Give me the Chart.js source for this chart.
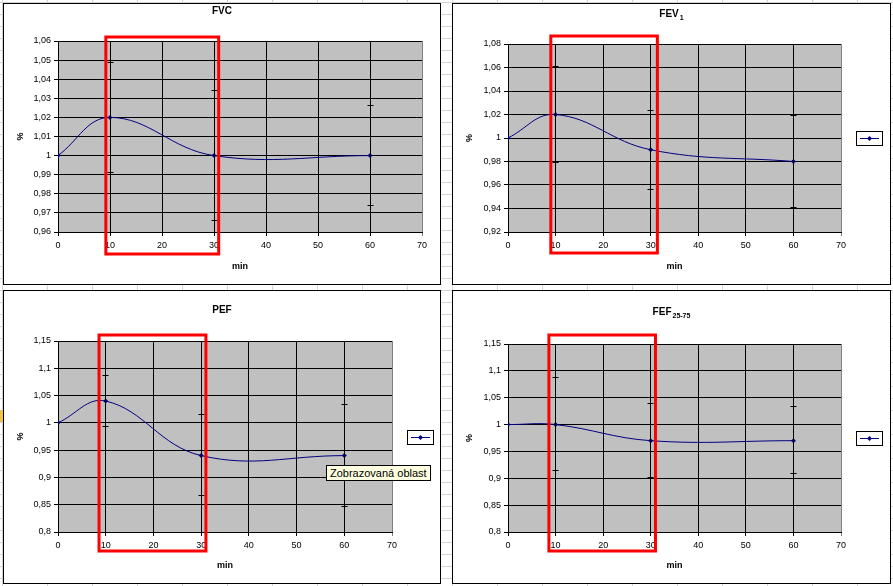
<!DOCTYPE html>
<html>
<head>
<meta charset="utf-8">
<script src="https://cdn.jsdelivr.net/npm/chart.js@4.4.1/dist/chart.umd.min.js"></script>
<style>
  html, body { margin: 0; padding: 0; }
  body {
    width: 893px; height: 586px; overflow: hidden; position: relative;
    background-color: #fff;
    background-image:
      linear-gradient(to bottom, #d4d4d4 1px, transparent 1px),
      linear-gradient(to right, #d4d4d4 1px, transparent 1px);
    background-size: 45px 12px;
    background-position: 2px 2px;
  }
  .panel { position: absolute; background: #fff; border: 1px solid #000; }
  .panel canvas { display: block; }
  .tip {
    position: absolute; left: 326px; top: 465px; height: 16px; padding: 0 3px;
    background: #ffffe1; border: 1px solid #000; box-sizing: border-box;
    font: 11px "Liberation Sans", Arial, sans-serif; line-height: 14px; color: #000;
    white-space: nowrap;
  }
  .mark { position: absolute; left: 0; top: 410px; width: 3px; height: 12px; background: #f2c24c; }
</style>
</head>
<body>
<div class="mark"></div>
<div class="panel" style="left:3px;top:3px;"><canvas id="fvc" width="436" height="280"></canvas></div>
<div class="panel" style="left:452px;top:3px;"><canvas id="fev1" width="437" height="280"></canvas></div>
<div class="panel" style="left:3px;top:290px;"><canvas id="pef" width="436" height="292"></canvas></div>
<div class="panel" style="left:452px;top:290px;"><canvas id="fef" width="437" height="292"></canvas></div>
<div class="tip">Zobrazovaná oblast</div>

<script>
// time after inhalation (min)
const minutes = [0, 10, 30, 60];
const xRange = [0, 70, 10];

// ratio to baseline, mean and error bar ends
const fvcMean = [1.00, 1.02, 1.00, 1.00];
const fvcLow = [null, 0.991, 0.966, 0.974];
const fvcHigh = [null, 1.049, 1.034, 1.026];
const fvcRange = [0.96, 1.06, 0.01];

const fev1Mean = [1.00, 1.02, 0.99, 0.98];
const fev1Low = [null, 0.979, 0.956, 0.941];
const fev1High = [null, 1.061, 1.023, 1.019];
const fev1Range = [0.92, 1.08, 0.02];

const pefMean = [1.00, 1.04, 0.94, 0.94];
const pefLow = [null, 0.993, 0.866, 0.847];
const pefHigh = [null, 1.087, 1.015, 1.033];
const pefRange = [0.8, 1.15, 0.05];

const fefMean = [1.00, 1.00, 0.97, 0.97];
const fefLow = [null, 0.914, 0.902, 0.908];
const fefHigh = [null, 1.087, 1.039, 1.033];
const fefRange = [0.8, 1.15, 0.05];

// red "zoomed area" box, in minutes
const fvcZoom = [9.2, 30.9];
const fev1Zoom = [9.0, 31.4];
const pefZoom = [8.6, 31.0];
const fefZoom = [8.6, 31.0];

const FONT = '"Liberation Sans", Arial, sans-serif';

const panels = [
    {id: "fvc", title: "FVC", sub: "", mean: fvcMean, low: fvcLow, high: fvcHigh, range: fvcRange, zoom: fvcZoom,
     area: {left: 54, right: 418, top: 37, bottom: 228}, titleY: 7, box: [-4, 22], legend: false},
    {id: "fev1", title: "FEV", sub: "1", mean: fev1Mean, low: fev1Low, high: fev1High, range: fev1Range, zoom: fev1Zoom,
     area: {left: 55, right: 388, top: 40, bottom: 228}, titleY: 10, box: [-8, 21], legend: true},
    {id: "pef", title: "PEF", sub: "", mean: pefMean, low: pefLow, high: pefHigh, range: pefRange, zoom: pefZoom,
     area: {left: 54, right: 388, top: 50, bottom: 241}, titleY: 19, box: [-6, 19], legend: true},
    {id: "fef", title: "FEF", sub: "25-75", mean: fefMean, low: fefLow, high: fefHigh, range: fefRange, zoom: fefZoom,
     area: {left: 55, right: 388, top: 53, bottom: 241}, titleY: 21, box: [-9, 19], legend: true}
];

const fmt = v => String(Math.round(v * 1000) / 1000).replace(".", ",");
// same pixel snapping Chart.js uses for 1px grid lines
const snap = v => Math.round(v + 0.5) - 0.5;

const plotBackground = {
    id: "plotBackground",
    beforeDraw(chart){
        const {ctx, chartArea: a} = chart;
        ctx.save();
        ctx.fillStyle = "#c0c0c0";
        ctx.fillRect(a.left, a.top, a.right - a.left, a.bottom - a.top);
        ctx.restore();
    }
};

const errorBars = {
    id: "errorBars",
    afterDatasetsDraw(chart){
        const p = chart.options.plugins.errorBars;
        const {ctx, scales: {x, y}} = chart;
        ctx.save();
        ctx.strokeStyle = "#000";
        ctx.lineWidth = 1;
        minutes.forEach((m, i) => {
            if (p.low[i] == null) return;
            const px = snap(x.getPixelForValue(m));
            const y1 = snap(y.getPixelForValue(p.low[i]));
            const y2 = snap(y.getPixelForValue(p.high[i]));
            ctx.beginPath();
            ctx.moveTo(px, y1); ctx.lineTo(px, y2);
            ctx.moveTo(px - 3, y1); ctx.lineTo(px + 3, y1);
            ctx.moveTo(px - 3, y2); ctx.lineTo(px + 3, y2);
            ctx.stroke();
        });
        ctx.restore();
    }
};

const decorations = {
    id: "decorations",
    afterDraw(chart){
        const p = chart.options.plugins.decorations;
        const {ctx, chartArea: a, scales: {x}} = chart;
        ctx.save();

        // title with optional subscript
        ctx.fillStyle = "#000";
        ctx.textBaseline = "middle";
        ctx.font = "bold 10px " + FONT;
        const w1 = ctx.measureText(p.title).width;
        ctx.font = "bold 7px " + FONT;
        const w2 = p.sub ? ctx.measureText(p.sub).width + 1 : 0;
        let tx = chart.width / 2 - (w1 + w2) / 2;
        ctx.textAlign = "left";
        ctx.font = "bold 10px " + FONT;
        ctx.fillText(p.title, tx, p.titleY);
        if (p.sub){
            ctx.font = "bold 7px " + FONT;
            ctx.fillText(p.sub, tx + w1 + 1, p.titleY + 4);
        }

        // legend box
        if (p.legend){
            const lx = a.right + 15, ly = Math.round((a.top + a.bottom) / 2 - 7) + 0.5;
            ctx.strokeStyle = "#000";
            ctx.lineWidth = 1;
            ctx.strokeRect(lx + 0.5, ly, 26, 14);
            ctx.strokeStyle = "#000080";
            ctx.beginPath();
            ctx.moveTo(lx + 4, ly + 7); ctx.lineTo(lx + 23, ly + 7);
            ctx.stroke();
            ctx.fillStyle = "#000080";
            ctx.beginPath();
            const cx = lx + 13.5, cy = ly + 7;
            ctx.moveTo(cx, cy - 2.5); ctx.lineTo(cx + 2.5, cy); ctx.lineTo(cx, cy + 2.5); ctx.lineTo(cx - 2.5, cy);
            ctx.closePath(); ctx.fill();
        }

        // red zoom box
        const bx1 = x.getPixelForValue(p.zoom[0]);
        const bx2 = x.getPixelForValue(p.zoom[1]);
        ctx.strokeStyle = "#ff0000";
        ctx.lineWidth = 3;
        ctx.strokeRect(bx1, a.top + p.box[0], bx2 - bx1, a.bottom - a.top + p.box[1] - p.box[0]);
        ctx.restore();
    }
};

panels.forEach(p => {
    const canvas = document.getElementById(p.id);
    const area = p.area;
    new Chart(canvas, {
        type: "line",
        data: {
            datasets: [{
                data: minutes.map((m, i) => ({x: m, y: p.mean[i]})),
                borderColor: "#000080",
                borderWidth: 1,
                backgroundColor: "#000080",
                pointStyle: "rectRot",
                pointRadius: 2.5,
                pointBorderWidth: 0,
                tension: 0.4,
                fill: false
            }]
        },
        options: {
            responsive: false,
            animation: false,
            layout: {padding: {left: 0, top: area.top, right: canvas.width - area.right, bottom: 0}},
            plugins: {
                legend: {display: false},
                tooltip: {enabled: false},
                errorBars: {low: p.low, high: p.high},
                decorations: {title: p.title, sub: p.sub, titleY: p.titleY, legend: p.legend, zoom: p.zoom, box: p.box}
            },
            scales: {
                x: {
                    type: "linear",
                    min: xRange[0], max: xRange[1],
                    afterFit(scale){ scale.height = canvas.height - area.bottom; },
                    ticks: {stepSize: xRange[2], color: "#000", padding: 4, font: {family: FONT, size: 9}, maxRotation: 0},
                    grid: {color: ctx => (ctx.tick && ctx.tick.value === xRange[1]) ? "#808080" : "#000", tickLength: 4, lineWidth: 1},
                    border: {color: "#000"},
                    title: {display: true, text: "min", color: "#000", font: {family: FONT, size: 9, weight: "bold"}, padding: {top: 0, bottom: 12.5}}
                },
                y: {
                    min: p.range[0], max: p.range[1],
                    afterFit(scale){ scale.width = area.left; },
                    ticks: {stepSize: p.range[2], color: "#000", padding: 3, font: {family: FONT, size: 9}, callback: v => fmt(v)},
                    grid: {color: "#000", tickLength: 4, lineWidth: 1},
                    border: {color: "#000"},
                    title: {display: true, text: "%", color: "#000", font: {family: FONT, size: 9, weight: "bold"}, padding: {top: 11.5, bottom: 0}}
                }
            }
        },
        plugins: [plotBackground, errorBars, decorations]
    });
});
</script>
</body>
</html>
